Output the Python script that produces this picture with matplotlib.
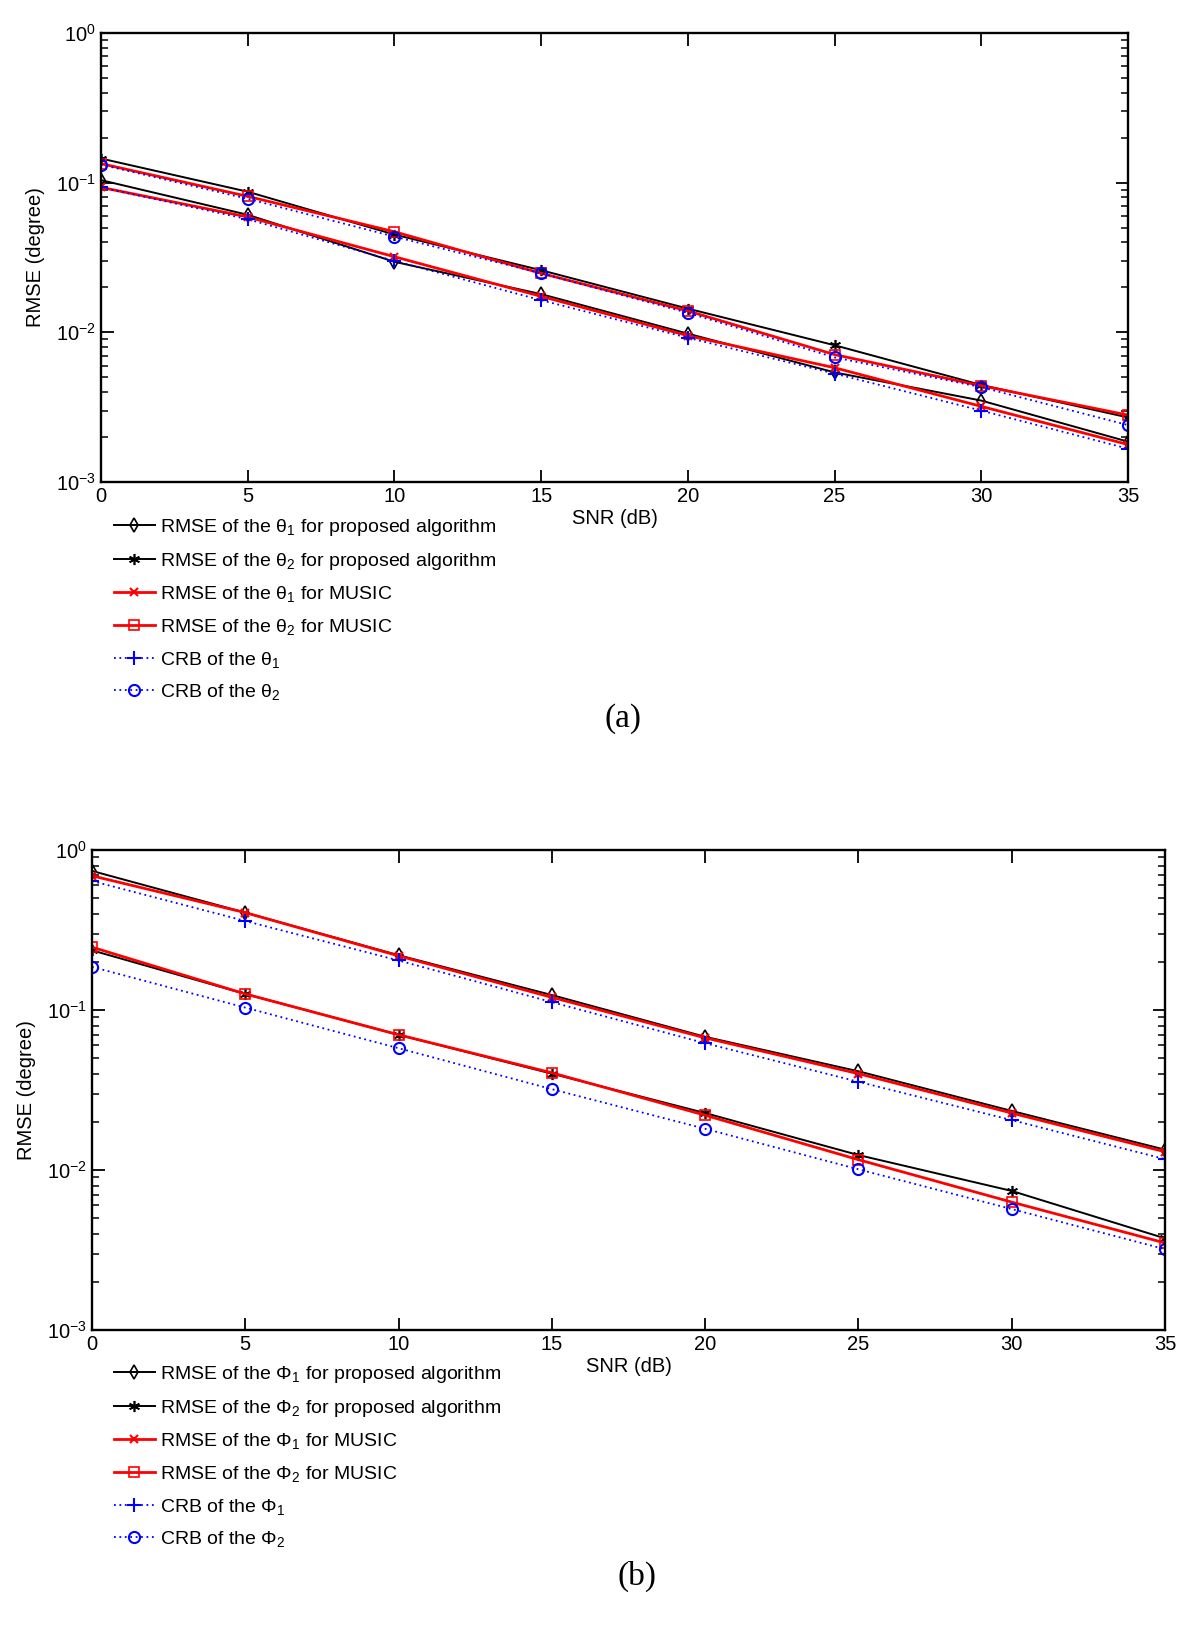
import numpy as np
import matplotlib
matplotlib.use('Agg')
from matplotlib import pyplot as plt
from matplotlib.ticker import LogLocator, NullFormatter, FixedLocator

plt.rcParams['font.family'] = ['Liberation Sans', 'DejaVu Sans']
plt.rcParams['mathtext.fontset'] = 'custom'
plt.rcParams['mathtext.rm'] = 'Liberation Sans'
plt.rcParams['mathtext.it'] = 'Liberation Sans'

snr = [0, 5, 10, 15, 20, 25, 30, 35]

# panel (a): elevation theta
theta1_prop = [0.104, 0.061, 0.0296, 0.018, 0.0098, 0.0054, 0.0035, 0.00186]
theta2_prop = [0.145, 0.087, 0.045, 0.026, 0.0144, 0.0082, 0.00445, 0.0027]
theta1_music = [0.093, 0.059, 0.032, 0.0174, 0.0095, 0.0058, 0.0032, 0.00178]
theta2_music = [0.134, 0.081, 0.047, 0.0248, 0.0139, 0.0071, 0.0044, 0.0028]
theta1_crb = [0.093, 0.057, 0.030, 0.0164, 0.0092, 0.0053, 0.0030, 0.00167]
theta2_crb = [0.132, 0.078, 0.0436, 0.0248, 0.0135, 0.0068, 0.0043, 0.0024]

# panel (b): azimuth phi
phi1_prop = [0.74, 0.406, 0.22, 0.124, 0.068, 0.0414, 0.0234, 0.0134]
phi2_prop = [0.236, 0.126, 0.070, 0.040, 0.0227, 0.0124, 0.0074, 0.00374]
phi1_music = [0.69, 0.406, 0.218, 0.12, 0.067, 0.040, 0.0227, 0.013]
phi2_music = [0.247, 0.126, 0.070, 0.0405, 0.022, 0.0116, 0.0063, 0.0035]
phi1_crb = [0.64, 0.36, 0.204, 0.112, 0.062, 0.0356, 0.0205, 0.0117]
phi2_crb = [0.186, 0.1035, 0.0577, 0.032, 0.0181, 0.0101, 0.0057, 0.0032]

W, H = 1200, 1634
fig = plt.figure(figsize=(W / 100, H / 100), dpi=100)


def panel(rect, series, sym, leg_xy, tag, tag_xy):
    ax = fig.add_axes(rect)
    labels = [
        r'RMSE of the $\%s_1$ for proposed algorithm' % sym,
        r'RMSE of the $\%s_2$ for proposed algorithm' % sym,
        r'RMSE of the $\%s_1$ for MUSIC' % sym,
        r'RMSE of the $\%s_2$ for MUSIC' % sym,
        r'CRB of the $\%s_1$' % sym,
        r'CRB of the $\%s_2$' % sym,
    ]
    styles = [
        dict(color='black', lw=1.4, marker='d', ms=7, mfc='none', mew=1.2),
        dict(color='black', lw=1.4, marker=(6, 2, 0), ms=8, mew=1.2),
        dict(color='red', lw=2.0, marker='x', ms=6, mew=1.5),
        dict(color='red', lw=2.0, marker='s', ms=7, mfc='none', mew=1.2),
        dict(color='blue', lw=1.3, ls=(0, (1, 2)), marker='+', ms=10, mew=1.5),
        dict(color='blue', lw=1.3, ls=(0, (1, 2)), marker='o', ms=8, mfc='none', mew=1.5),
    ]
    for y, lab, st in zip(series, labels, styles):
        ax.semilogy(snr, y, label=lab, **st)
    ax.set_xlim(0, 35)
    ax.set_ylim(1e-3, 1)
    ax.xaxis.set_major_locator(FixedLocator(snr))
    ax.yaxis.set_minor_locator(LogLocator(base=10, subs=np.arange(2, 10), numticks=20))
    ax.yaxis.set_minor_formatter(NullFormatter())
    ax.set_yticks([1e-3, 1e-2, 1e-1, 1])
    ax.set_yticklabels(['10$^{-3}$', '10$^{-2}$', '10$^{-1}$', '10$^{0}$'])
    ax.tick_params(which='both', direction='in', top=True, right=True, labelsize=14.5)
    ax.tick_params(which='major', length=9, width=1.3)
    ax.tick_params(which='minor', length=5, width=1.1)
    for s in ax.spines.values():
        s.set_linewidth(1.7)
    ax.set_xlabel('SNR (dB)', fontsize=14.5, labelpad=2)
    ax.set_ylabel('RMSE (degree)', fontsize=14.5, labelpad=8)
    ax.legend(loc='upper left', bbox_to_anchor=leg_xy, bbox_transform=fig.transFigure,
              frameon=False, fontsize=14, handlelength=2.1, handletextpad=0.25,
              labelspacing=0.65, borderaxespad=0, borderpad=0)
    fig.text(tag_xy[0], tag_xy[1], tag, fontsize=24, family='Liberation Serif',
             ha='center', va='center')
    return ax


panel([101 / W, 1 - 482 / H, 1027 / W, 449 / H],
      [theta1_prop, theta2_prop, theta1_music, theta2_music, theta1_crb, theta2_crb],
      'theta', (114 / W, 1 - 517 / H), '(a)', (623 / W, 1 - 719 / H))
panel([92 / W, 1 - 1330 / H, 1073 / W, 480 / H],
      [phi1_prop, phi2_prop, phi1_music, phi2_music, phi1_crb, phi2_crb],
      'Phi', (114 / W, 1 - 1364 / H), '(b)', (637 / W, 1 - 1576 / H))

fig.savefig('out.png', dpi=100)
